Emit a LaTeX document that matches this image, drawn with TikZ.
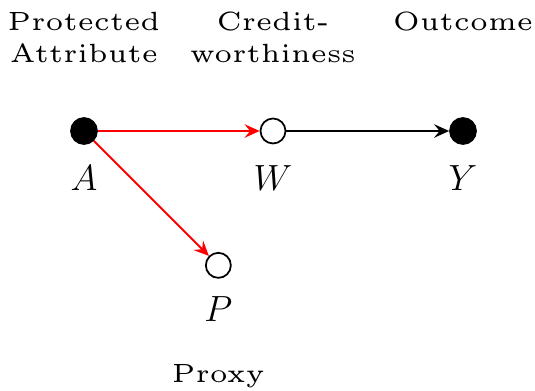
\documentclass[tikz,border=0pt]{standalone}
\usetikzlibrary{arrows.meta}

\font\descfont=cmr5 at 15pt

\begin{document}
\begin{tikzpicture}[
        node distance=3.78cm,
        obs/.style={circle, draw=black, fill=black, line width=1pt, minimum size=5.2mm, inner sep=0pt},
        lat/.style={circle, draw=black, fill=white, line width=1pt, minimum size=5mm, inner sep=0pt},
        var/.style={font=\fontsize{20}{24}\selectfont, inner sep=0pt},
        desc/.style={font={\descfont\baselineskip=18pt}, align=center, inner sep=0pt},
        edge/.style={line width=1.1pt, -{Stealth[length=3mm, width=2.7mm, inset=1.1mm]}}
    ]
        \useasboundingbox (0,0) rectangle (10.7,7.82);

        % Nodos del grafo
        \node[obs] (A) at (1.68,5.2) {};
        \node[lat] (W) [right of=A] {};
        \node[obs] (Y) [right of=W, node distance=3.8cm] {};
        \node[lat] (P) [below right of=A, node distance=3.8cm] {};

        % Etiquetas
        \node[var] (lA) [below of=A, node distance=0.95cm] {$A$};
        \node[var] (lW) [below of=W, node distance=0.95cm] {$W$};
        \node[var] (lY) [below of=Y, node distance=0.95cm] {$Y$};
        \node[var] (lP) [below of=P, node distance=0.88cm] {$P$};

        \node[desc] (tA) [above of=A, node distance=1.87cm] {Protected\\Attribute};
        \node[desc] (tW) [above of=W, node distance=1.87cm] {Credit-\\worthiness};
        \node[desc] (tY) [above of=Y, node distance=2.18cm] {Outcome};
        \node[desc] (tP) [below of=lP, node distance=1.34cm] {Proxy};

        % Aristas
        \draw[edge, red] (A) -- (W);
        \draw[edge, red] (A) -- (P);
        \draw[edge, black] (W) -- (Y);
    \end{tikzpicture}
\end{document}
